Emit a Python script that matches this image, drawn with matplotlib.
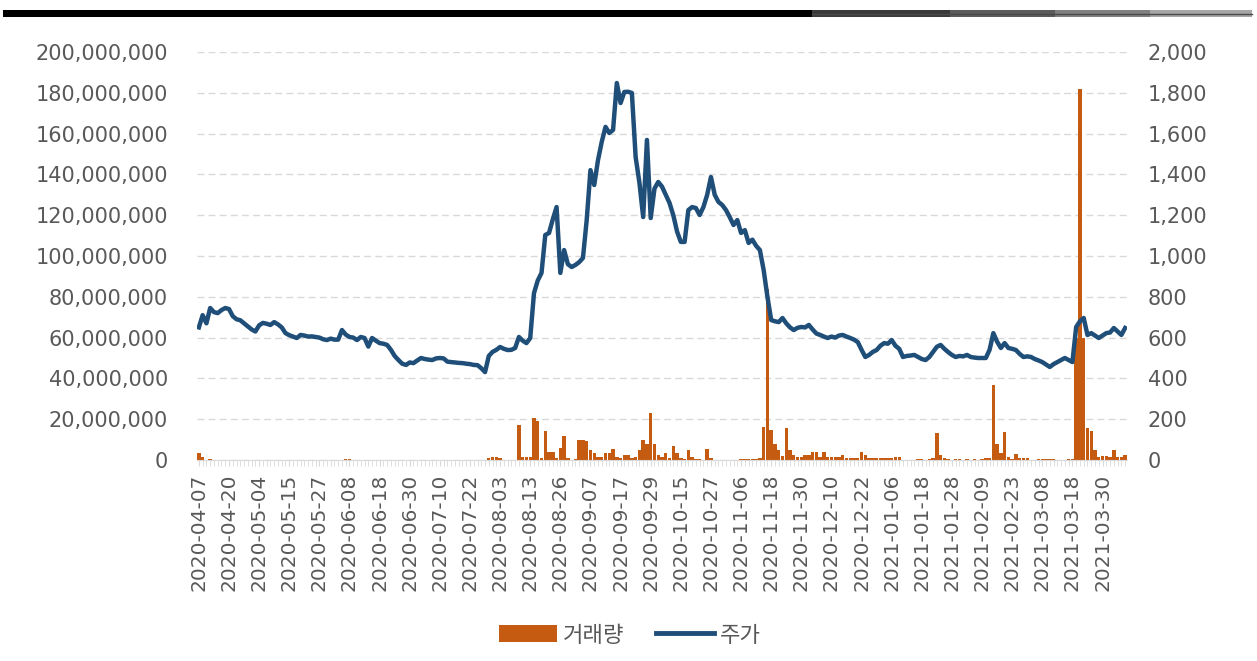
import matplotlib
matplotlib.use("Agg")
import matplotlib.pyplot as plt
from matplotlib.patches import Rectangle, Patch
from matplotlib.lines import Line2D
from matplotlib.ticker import FuncFormatter
import pandas as pd

# ---------------- data ----------------
holidays = ["2020-04-15", "2020-04-30", "2020-05-01", "2020-05-05", "2020-08-17",
            "2020-09-30", "2020-10-01", "2020-10-02", "2020-10-09", "2020-12-25",
            "2020-12-31", "2021-01-01", "2021-02-11", "2021-02-12", "2021-03-01"]
trade_days = [d for d in pd.bdate_range("2020-04-07", "2021-04-07")
              if d.strftime("%Y-%m-%d") not in holidays]
dates = [d.strftime("%Y-%m-%d") for d in trade_days]

price = [
    650, 710, 670, 745, 725, 720, 735, 745, 740, 705,
    690, 685, 670, 655, 640, 630, 660, 672, 668, 662,
    676, 665, 650, 622, 612, 605, 598, 613, 610, 605,
    606, 603, 600, 592, 588, 595, 590, 590, 637, 615,
    603, 600, 588, 603, 598, 556, 598, 585, 573, 570,
    564, 540, 510, 490, 472, 466, 478, 475, 488, 500,
    495, 492, 490, 498, 500, 498, 482, 480, 478, 476,
    475, 472, 470, 466, 465, 450, 431, 510, 530, 540,
    554, 545, 539, 540, 549, 603, 585, 573, 598, 818,
    880, 917, 1103, 1113, 1180, 1240, 917, 1029, 960, 946,
    956, 970, 990, 1176, 1421, 1348, 1470, 1560, 1633, 1603,
    1618, 1848, 1750, 1804, 1805, 1799, 1485, 1360, 1191, 1569,
    1186, 1330, 1363, 1340, 1300, 1260, 1200, 1120, 1069, 1069,
    1225, 1240, 1235, 1201, 1240, 1300, 1387, 1300, 1265, 1250,
    1225, 1190, 1152, 1176, 1113, 1127, 1064, 1080, 1050, 1029,
    931, 800, 686, 680, 676, 696, 670, 650, 637, 648,
    652, 650, 662, 640, 620, 613, 605, 598, 605, 600,
    610, 613, 605, 598, 590, 578, 540, 505, 515, 530,
    539, 560, 573, 570, 588, 560, 545, 505, 510, 512,
    515, 505, 495, 490, 505, 530, 555, 564, 545, 529,
    515, 505, 510, 508, 515, 505, 502, 500, 500, 500,
    540, 622, 580, 549, 573, 549, 545, 539, 520, 505,
    508, 505, 495, 488, 480, 468, 456, 470, 480, 490,
    500, 490, 480, 652, 680, 696, 613, 622, 610, 598,
    610, 622, 625, 647, 630, 613, 647,
]

# volume in millions of shares
volume_m = [
    3.2, 1.3, 0, 0.3, 0, 0, 0, 0, 0, 0,
    0, 0, 0, 0, 0, 0, 0, 0, 0, 0,
    0, 0, 0, 0, 0, 0, 0, 0, 0, 0,
    0, 0, 0, 0, 0, 0, 0, 0, 0, 0.6,
    0.5, 0, 0, 0, 0, 0, 0, 0, 0, 0,
    0, 0, 0, 0, 0, 0, 0, 0, 0, 0,
    0, 0, 0, 0, 0, 0, 0, 0, 0, 0,
    0, 0, 0, 0, 0, 0, 0, 1.0, 1.3, 1.3,
    1.0, 0, 0, 0, 0, 17, 1.3, 1.3, 1.5, 20.5,
    19, 0.8, 14, 3.7, 4, 1.0, 6, 12, 0.8, 0,
    0.5, 10, 10, 9.5, 5, 3.3, 1.6, 1.6, 3.3, 3.3,
    5.2, 1.6, 0.8, 2.5, 2.5, 0.8, 1.5, 5, 10, 8,
    23, 8, 2.5, 1.6, 3.3, 1.2, 7, 3.3, 0.8, 0.5,
    5, 1.6, 0.3, 0.3, 0, 5.2, 0.8, 0, 0, 0,
    0, 0, 0, 0, 0.3, 0.3, 0.3, 0.3, 0.3, 1.2,
    16, 84, 14.5, 8, 5, 2, 15.5, 5, 2.5, 1.3,
    1.3, 2.5, 2.5, 4, 4, 1.6, 4, 1.3, 1.3, 1.3,
    1.3, 2.5, 0.8, 0.8, 0.8, 1.0, 4, 2.5, 1.1, 1.1,
    1.1, 1.1, 1.1, 1.1, 1.1, 1.3, 1.3, 0, 0, 0,
    0, 0.4, 0.4, 0, 0.3, 1.0, 13, 2.5, 0.8, 0.3,
    0, 0.3, 0.3, 0, 0.3, 0, 0.3, 0, 0.3, 0.8,
    1.0, 37, 8, 3.3, 13.6, 1.6, 0.5, 3, 0.8, 1.1,
    1.1, 0, 0, 0.5, 0.5, 0.5, 0.5, 0.5, 0, 0,
    0, 0.5, 0.5, 60, 182, 60, 15.5, 14, 5, 1.6,
    2, 2, 1.5, 5, 1.3, 1.3, 2.5,
]
volume = [v * 1_000_000 for v in volume_m]

series_names = ["거래량", "주가"]
left_ticks = [0, 20e6, 40e6, 60e6, 80e6, 100e6, 120e6, 140e6, 160e6, 180e6, 200e6]
right_ticks = [0, 200, 400, 600, 800, 1000, 1200, 1400, 1600, 1800, 2000]
label_step = 8

# ---------------- style ----------------
BAR_C = "#C55A11"
LINE_C = "#1F4E79"
TXT_C = "#595959"
GRID_C = "#d9d9d9"
plt.rcParams["font.family"] = ["DejaVu Sans", "Noto Sans CJK KR"]

W, H = 1257, 661
fig = plt.figure(figsize=(W / 100, H / 100), dpi=100)
fig.patch.set_facecolor("white")

# top decorative band
fig.add_artist(Rectangle((3 / W, 1 - 17 / H), (812 - 3) / W, 7 / H,
                         transform=fig.transFigure, color="black", lw=0))
for x0, x1, c in [(812, 950, "#3a3a3a"), (950, 1055, "#5c5c5c"),
                  (1055, 1150, "#808080"), (1150, 1252, "#a6a6a6")]:
    fig.add_artist(Rectangle((x0 / W, 1 - 17 / H), (x1 - x0) / W, 7 / H,
                             transform=fig.transFigure, color=c, lw=0))
fig.add_artist(Line2D([812 / W, 1252 / W], [1 - 13.5 / H, 1 - 13.5 / H],
                      transform=fig.transFigure, color="#4a4a4a", lw=1))

ax = fig.add_axes([197 / W, 1 - 460 / H, (1127 - 197) / W, (460 - 52) / H])
x = list(range(len(dates)))

ax.bar(x, volume, width=0.9, color=BAR_C, zorder=2)
ax.set_ylim(0, 200e6)
ax.set_yticks(left_ticks)
ax.yaxis.set_major_formatter(FuncFormatter(lambda v, p: f"{int(v):,}"))
ax.set_xlim(-0.5, len(dates) - 0.5)
ax.set_xticks(x[::label_step])
ax.set_xticklabels(dates[::label_step], rotation=90)
ax.set_xticks(x, minor=True)
ax.grid(axis="y", color=GRID_C, linestyle=(0, (5, 3)), linewidth=1, zorder=0)
ax.set_axisbelow(True)
for s in ["top", "left", "right"]:
    ax.spines[s].set_visible(False)
ax.spines["bottom"].set_color(GRID_C)
ax.tick_params(axis="y", length=0, pad=21, labelsize=15, labelcolor=TXT_C)
ax.tick_params(axis="x", which="both", length=4, color=GRID_C,
               labelsize=14.5, labelcolor=TXT_C, pad=6)

ax2 = ax.twinx()
ax2.plot(x, price, color=LINE_C, lw=3.2, solid_joinstyle="round", zorder=3)
ax2.set_ylim(0, 2000)
ax2.set_yticks(right_ticks)
ax2.yaxis.set_major_formatter(FuncFormatter(lambda v, p: f"{int(v):,}"))
for s in ["top", "left", "right", "bottom"]:
    ax2.spines[s].set_visible(False)
ax2.tick_params(axis="y", length=0, pad=15, labelsize=15, labelcolor=TXT_C)

handles = [Patch(facecolor=BAR_C, edgecolor="none"),
           Line2D([0], [0], color=LINE_C, lw=3.5)]
leg = fig.legend(handles, series_names, loc="center",
                 bbox_to_anchor=(630 / W, 1 - 635 / H), ncol=2, frameon=False,
                 handlelength=2.6, handleheight=0.8, handletextpad=0.3,
                 columnspacing=1.4,
                 prop={"family": ["Noto Sans CJK KR", "DejaVu Sans"], "size": 16})
for t in leg.get_texts():
    t.set_color(TXT_C)

fig.savefig("out.png", dpi=100, facecolor="white")
